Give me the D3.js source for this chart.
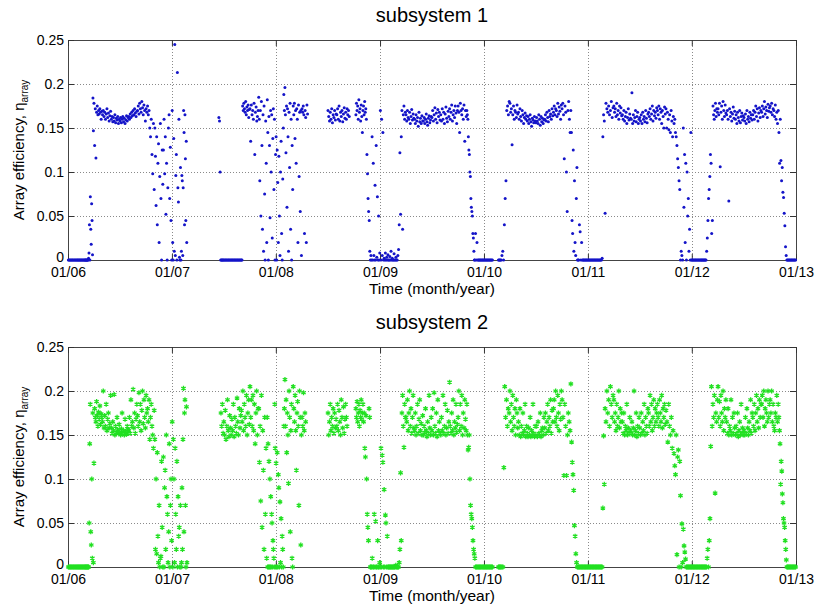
<!DOCTYPE html>
<html>
<head>
<meta charset="utf-8">
<script src="https://cdn.jsdelivr.net/npm/d3@7"></script>
<style>
  body { margin: 0; background: #fff; }
  text { font-family: Arial, "Liberation Sans", Helvetica, sans-serif; }
</style>
</head>
<body>
<svg width="818" height="610"></svg>
<script>
// daily array efficiency, in thousandths, one string per month (Jan..Dec)
// "-" = no reading on that slot
var sub1_2006 = [
  "0 0 0 0 0 0 0 0 0 0 0 0",
  "0 0 0 0 0 0 0 0 0 0 0 0",
  "0 0 0 0 0 0 0 0 2 8 40 0 72 35 18 64 45 6 184 147",
  "178 130 172 116 168 175 165 170 166 172 168 160 169",
  "165 170 163 168 160 166 172 162 167 158 164 169",
  "160 163 157 162 158 165 156 161 159 163 155 160",
  "158 162 156 160 163 157 161 155 159 164 158 162",
  "163 160 166 162 168 164 170 165 172 167 163 169",
  "170 175 166 178 172 168 180 173 165 176 170 158",
  "172 168 175 165 170 150 140 160 120 98 155 80",
  "150 118 62 140 40 110 132 20 95 155 70 0 125 86",
  "125 160 98 140 52 110 0 82 150 165 70 128 45 0"
];
var sub1_2007 = [
  "170 20 0 138 10 245 5 96 120 0 213 82 66 160 3 0 105",
  "0 10 96 90 5 82 170 145 40 165 115 45 135 20 - - - -",
  "", "", "",
  "- - - - - - 162 158 100 0 0 0 0 0",
  "0 0 0 0 0 0 0 0 0 0 0 0",
  "0 0 0 0 0 0 0 0 0 0 0 0",
  "0 0 175 170 178 172 168 180 165 174 170 176 162 171",
  "172 135 176 165 170 160 178 120 168 174 158 163 170",
  "185 160 90 170 50 180 130 35 165 10 175 75 0 158 110 20",
  "182 145 0 163 130 48 170 100 165 25 138 172 80 160 0 120"
];
var sub1_2008 = [
  "140 0 125 88 20 118 50 5 100 135 30 0 92 150 188 170",
  "196 165 122 175 60 172 140 10 168 105 178 35 160 0 130 80",
  "175 165 178 138 170 110 172 160 20 176 95 168 55 170 5",
  "172 168 175 165 30 170 162 20 176 166 - - - -",
  "", "",
  "170 163 158 168 160 172 156 165 162 170 159 166",
  "165 172 160 175 158 168 163 170 157 166 173 161",
  "168 160 172 165 170 163 - - - - - -",
  "- - - 165 178 170 175 160 182 168 172 158 176 163 145",
  "170 175 165 180 168 172 160 120 98 70 55 45 10 0 5",
  "0 140 0 110 5 0 85 0 130 3 72 0 50 0 8"
];
var sub1_2009 = [
  "170 0 160 5 145 0 2 0 8 0 3 0 6 0",
  "0 4 0 10 0 2 0 0 7 0 0 3 0",
  "0 5 12 40 122 52 140 170 35 165 175 160 168",
  "165 158 170 162 160 168 155 163 171 159 166 161",
  "160 155 165 158 162 152 168 157 161 155 164 158",
  "158 162 155 160 166 157 153 161 164 156 159 163",
  "162 170 158 165 173 160 167 156 171 163 168 159",
  "165 158 172 160 168 155 166 174 161 157 169 163",
  "172 160 168 176 158 165 170 162 175 167 155 170",
  "175 168 145 178 170 165 172 160 176 135 170 163",
  "170 165 160 140 125 120 100 95 70 60 55 50 30 25 10 0 0",
  "30 0 20 0 0 0 0 0 0 0 0 0"
];
var sub1_2010 = [
  "0 0 0 0 0 0 0 0 0 0 0 0",
  "- - - - - - - - 0 0 0 0",
  "0 5 10 0 40 70 90 170 175 165 180",
  "178 168 172 131 165 175 160 170 168 162 176 166",
  "168 160 172 163 158 170 165 155 162 167 160 164",
  "158 163 155 160 165 157 152 161 159 156 163 158",
  "156 162 158 155 165 160 153 163 157 161 155 159",
  "160 165 158 168 162 157 170 163 166 160 172 164",
  "168 175 165 172 170 163 178 166 174 169 160 176",
  "172 178 165 115 175 168 100 55 170 180 160 145",
  "170 145 45 30 125 10 90 20 5 70 105 0 0 0",
  "40 32 0 20 0 0 0 0 0 0 0 0"
];
var sub1_2011 = [
  "0 0 0 0 0 0 0 0 0 0 0 0",
  "0 0 0 0 0 0 0 2 140 165 158",
  "53 178 172 168 175 165 170 180 162 173",
  "175 168 172 163 178 165 170 160 175 167 173 164",
  "165 160 170 158 163 168 155 162 172 159 166 161",
  "160 190 155 165 158 162 170 157 163 168 155 160",
  "162 158 165 155 168 160 163 157 170 161 156 166",
  "168 163 172 160 166 175 158 170 164 168 161 173",
  "170 165 175 160 172 168 155 170 163 150 174 166",
  "172 150 168 160 148 165 145 170 158 140 163 155",
  "160 145 140 130 115 105 90 80 0 10 5 0",
  "150 60 120 20 110 0 100 50 70 10 35 0 145 0"
];
var sub1_2012 = [
  "0 0 0 0 0 0 0 0 0 0 0 0",
  "0 0 0 0 0 0 0 0 0 10 25 45 70",
  "80 95 120 110 30 45 175 165 160 170 178 163 172 168",
  "172 165 178 106 168 175 160 180 170 163 176 167",
  "165 170 160 67 172 163 168 158 166 174 161 169",
  "160 165 155 168 162 158 170 156 163 167 159 164",
  "162 158 166 155 170 160 163 157 168 161 165 159",
  "165 170 160 168 175 163 172 158 167 173 162 170",
  "168 175 163 172 180 166 174 170 162 177 169 173",
  "175 168 178 165 172 170 163 176 160 168 155 170",
  "145 110 160 113 90 105 77 71 53 39 15 5 0",
  "0 0 0 0 0 0 0 0 0 0 0 0"
];

var sub2_2006 = [
  "0 0 0 0 0 0 0 0 0 0 0 0",
  "0 0 0 0 0 0 0 0 0 0 0 0",
  "0 0 0 0 0 0 0 0 50 140 185 40 25 100 10 175 5",
  "118 180 170 165 188 172 160 176 168 183 162 174 170",
  "165 200 158 172 160 185 155 168 175 158 163 195",
  "158 152 165 155 196 150 160 153 170 156 152 162",
  "153 150 157 175 152 155 150 168 154 151 160 156",
  "155 170 152 190 160 165 202 158 175 152 168 185",
  "172 160 198 165 185 155 178 200 163 190 170 158",
  "195 175 180 165 190 145 170 185 160 150 135 178",
  "145 20 100 15 130 35 5 70 0 10 12 120 45 0",
  "125 0 90 110 20 150 80 60 5 40 140 0 70 100 30"
];
var sub2_2007 = [
  "165 0 145 100 5 135 60 20 120 0 80 35 45 0 70",
  "0 5 90 20 145 203 40 175 190 70 0 182 5 - - -",
  "", "", "",
  "- - - - - - - - 175 160 185 152",
  "165 150 178 145 160 190 155 148 172 158 150 168",
  "155 185 148 170 160 152 192 165 150 180 158 172",
  "178 165 200 155 185 170 160 195 150 175 190 162",
  "205 170 190 160 195 155 185 140 175 200 150 180",
  "180 119 160 75 195 45 155 110 20 170 60 135 10",
  "170 0 140 0 120 0 100 0 80 0 60 50 0 30 20 10 0 185 135 0"
];
var sub2_2008 = [
  "118 0 130 0 105 90 0 74 5 55 0 35 20 0 160 180",
  "213 160 190 130 175 150 95 200 170 40 155 185 10 0",
  "205 180 165 195 155 110 175 188 160 70 200 170 25 150",
  "170 160 198 155 175 165 - - - - - -",
  "", "",
  "175 150 165 185 155 170 160 180 152 175 158 168",
  "160 185 155 178 165 150 190 170 158 182 152 168",
  "185 170 160 - - - - - - - - -",
  "- - - 180 170 188 165 175 185 160 178 170 190 168 175",
  "185 165 175 135 125 172 100 60 45 30 180 170 0 0",
  "0 10 0 0 60 0 52 0 0 30 0 0 5"
];
var sub2_2009 = [
  "0 135 0 127 119 0 88 0 59 50 0 35 0 0",
  "0 0 0 0 0 0 0 0 0 0 2 0",
  "0 0 0 5 20 107 30 175 195 160 136 185 170",
  "170 165 190 155 175 200 160 180 152 170 195 158",
  "155 175 150 160 185 152 168 190 155 163 150 172",
  "150 160 153 180 155 148 165 152 195 158 150 170",
  "155 180 150 198 160 152 175 148 190 155 165 152",
  "150 170 155 195 152 160 185 150 158 178 152 165",
  "210 160 152 175 155 190 150 165 158 185 153 162",
  "170 200 155 185 160 195 150 175 158 190 168 155",
  "185 150 133 136 150 100 70 60 55 45 30 20 15 10",
  "0 0 0 0 0 0 0 0 0 0 0"
];
var sub2_2010 = [
  "0 0 0 0 0 0 0 0 0 0 0 0",
  "- - - - - - - - 0 0 0 0",
  "0 0 0 113 205 170 190 160 180 175",
  "200 165 185 155 195 170 160 180 150 190 175 158",
  "165 150 180 148 160 152 175 150 155 185 148 160",
  "152 148 158 150 170 148 155 150 185 152 148 160",
  "150 160 148 165 152 150 175 148 155 158 150 170",
  "158 175 152 165 185 155 170 160 190 152 178 165",
  "180 190 165 200 170 160 195 175 155 185 168 200",
  "190 170 104 185 160 104 150 175 165 155",
  "208 142 119 105 87 47 35 15 5 0 0 0",
  "0 0 0 0 0 0 0 0 0 0 0 0"
];
var sub2_2011 = [
  "0 0 0 0 0 0 0 0 0 0 0 0",
  "0 0 0 0 0 0 0 0 67 149 94",
  "180 165 200 175 190 160 205 185 170 195",
  "190 165 175 155 185 160 170 200 158 180 165 175",
  "165 152 175 150 160 155 185 150 158 152 170 155",
  "152 165 150 158 200 150 155 175 148 160 152 170",
  "158 150 175 152 165 155 185 150 170 160 152 180",
  "175 160 195 165 185 155 170 190 160 180 165 175",
  "185 170 160 190 175 165 195 158 180 170 185 162",
  "178 165 142 185 160 150 170 135 155 129",
  "115 105 150 14 125 133 0 120 81 0 49 5",
  "43 24 17 9 0 0 0 0 0 0 0 0"
];
var sub2_2012 = [
  "0 0 0 0 0 0 0 0 0 0 0 0",
  "0 0 0 0 0 0 0 0 0 10 20 0",
  "30 55 137 205 160 185 170 195 84 175 165 190",
  "205 170 188 160 195 175 165 200 155 180 170 190",
  "165 152 180 150 160 155 190 150 170 152 175 158",
  "150 160 152 175 148 155 165 150 185 152 158 150",
  "155 150 170 152 180 158 150 165 155 190 152 175",
  "170 160 185 155 175 195 165 180 158 190 170 185",
  "185 195 170 200 160 180 190 175 165 200 170 185",
  "190 175 200 165 185 160 155 175 170 195 165 185",
  "170 155 140 94 120 109 83 73 55 50 45 30 20 8 0",
  "0 0 0 0 0 0 0 0 0 0 0 0"
];

var yTicks = [0, 0.05, 0.1, 0.15, 0.2, 0.25];
var yTickLabels = ["0", "0.05", "0.1", "0.15", "0.2", "0.25"];
var xTickYears = [2006, 2007, 2008, 2009, 2010, 2011, 2012, 2013];
var xTickLabels = ["01/06", "01/07", "01/08", "01/09", "01/10", "01/11", "01/12", "01/13"];

var svg = d3.select("svg"),
    left = 68, right = 796, plotH = 220;

var xTicks = xTickYears.map(function(yr) { return new Date(Date.UTC(yr, 0, 1)); });

var x = d3.scaleUtc()
  .domain([xTicks[0], xTicks[xTicks.length - 1]])
  .range([left, right]);

function toPoints(years) {
  var pts = [];
  years.forEach(function(months, yi) {
    months.forEach(function(str, mi) {
      var vals = str.split(" ").filter(function(s) { return s.length; });
      var t0 = Date.UTC(2006 + yi, mi, 1), t1 = Date.UTC(2006 + yi, mi + 1, 1);
      vals.forEach(function(v, j) {
        if (v === "-") return;
        pts.push({date: new Date(t0 + (j + 0.5) / vals.length * (t1 - t0)), value: +v / 1000});
      });
    });
  });
  return pts;
}

var pts1 = toPoints([sub1_2006, sub1_2007, sub1_2008, sub1_2009, sub1_2010, sub1_2011, sub1_2012]);
var pts2 = toPoints([sub2_2006, sub2_2007, sub2_2008, sub2_2009, sub2_2010, sub2_2011, sub2_2012]);

function styleAxis(sel) {
  sel.select(".domain").remove();
  sel.selectAll(".tick line").attr("stroke", "#333");
  sel.selectAll(".tick text").attr("fill", "#000");
  sel.attr("font-size", 14).attr("font-family", "Arial, 'Liberation Sans', sans-serif");
}

function drawPanel(top, title, pts, kind) {
  var y = d3.scaleLinear().domain([0, 0.25]).range([top + plotH, top]);
  var g = svg.append("g");

  // dotted grid
  g.append("g").selectAll("line")
    .data(yTicks.slice(1, -1))
    .enter().append("line")
      .attr("x1", left).attr("x2", right)
      .attr("y1", function(d) { return Math.round(y(d)) + 0.5; })
      .attr("y2", function(d) { return Math.round(y(d)) + 0.5; })
      .attr("stroke", "#8a8a8a")
      .attr("stroke-dasharray", "1,2");

  g.append("g").selectAll("line")
    .data(xTicks.slice(1, -1))
    .enter().append("line")
      .attr("y1", top).attr("y2", top + plotH)
      .attr("x1", function(d) { return Math.round(x(d)) + 0.5; })
      .attr("x2", function(d) { return Math.round(x(d)) + 0.5; })
      .attr("stroke", "#8a8a8a")
      .attr("stroke-dasharray", "1,2");

  g.append("rect")
    .attr("x", left + 0.5).attr("y", top + 0.5)
    .attr("width", right - left).attr("height", plotH)
    .attr("fill", "none")
    .attr("stroke", "#444");

  var yAxis = g.append("g")
      .attr("transform", "translate(" + left + ",0)")
      .call(d3.axisLeft(y).tickValues(yTicks)
        .tickFormat(function(d, i) { return yTickLabels[i]; })
        .tickSize(-6).tickPadding(4))
      .call(styleAxis);
  // the "0" label sits right on top of "01/06", lift it a little
  yAxis.selectAll(".tick text").filter(function(d) { return d === 0; })
      .attr("y", -3);

  g.append("g")
      .attr("transform", "translate(" + right + ",0)")
      .call(d3.axisRight(y).tickValues(yTicks).tickFormat("").tickSize(-6))
      .call(styleAxis);

  g.append("g")
      .attr("transform", "translate(0," + (top + plotH) + ")")
      .call(d3.axisBottom(x).tickValues(xTicks)
        .tickFormat(function(d, i) { return xTickLabels[i]; })
        .tickSize(-6).tickPadding(7))
      .call(styleAxis);

  g.append("g")
      .attr("transform", "translate(0," + top + ")")
      .call(d3.axisTop(x).tickValues(xTicks).tickFormat("").tickSize(-6))
      .call(styleAxis);

  // marks
  if (kind == "dot") {
    g.append("g").selectAll("circle")
      .data(pts)
      .enter().append("circle")
        .attr("cx", function(d) { return x(d.date); })
        .attr("cy", function(d) { return y(d.value); })
        .attr("r", 1.5)
        .attr("fill", "#1414c8");
  } else {
    var sym = d3.symbolAsterisk || d3.symbolCross;
    var star = d3.symbol().type(sym).size(18);
    g.append("g").selectAll("path")
      .data(pts)
      .enter().append("path")
        .attr("transform", function(d) { return "translate(" + x(d.date) + "," + y(d.value) + ")"; })
        .attr("d", star)
        .attr("fill", d3.symbolAsterisk ? "none" : "#22e022")
        .attr("stroke", d3.symbolAsterisk ? "#22e022" : "none")
        .attr("stroke-width", 1.3);
  }

  g.append("text")
    .attr("x", (left + right) / 2)
    .attr("y", top - 18)
    .attr("text-anchor", "middle")
    .style("font-size", "20px")
    .text(title);

  g.append("text")
    .attr("x", (left + right) / 2)
    .attr("y", top + plotH + 34)
    .attr("text-anchor", "middle")
    .style("font-size", "15.5px")
    .text("Time (month/year)");

  var yl = g.append("text")
    .attr("transform", "translate(24," + (top + plotH / 2) + ") rotate(-90)")
    .attr("text-anchor", "middle")
    .style("font-size", "15px");
  yl.append("tspan").text("Array efficiency, \u03b7");
  yl.append("tspan").attr("dy", 4).style("font-size", "10px").text("array");
}

drawPanel(40, "subsystem 1", pts1, "dot");
drawPanel(347, "subsystem 2", pts2, "star");
</script>
</body>
</html>
